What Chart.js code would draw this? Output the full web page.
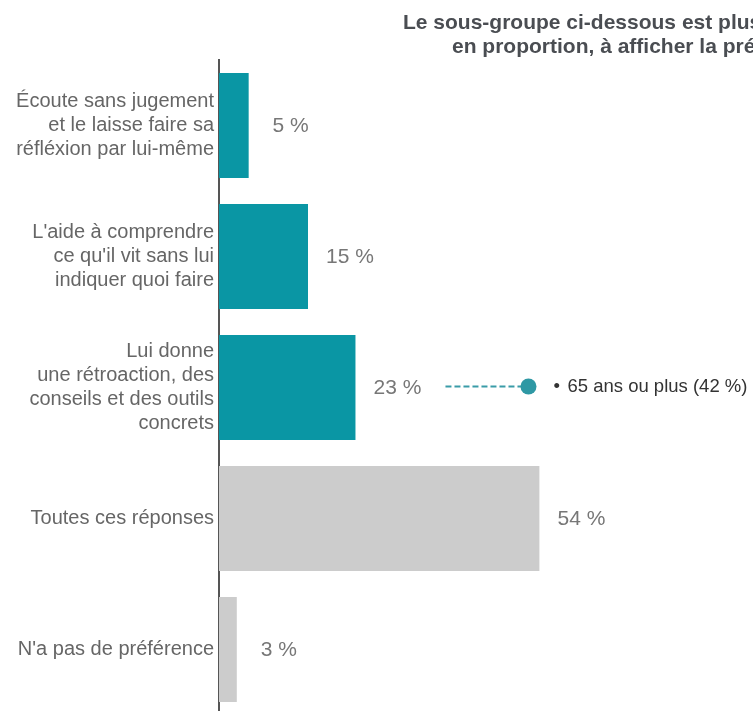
<!DOCTYPE html>
<html lang="fr">
<head>
<meta charset="utf-8">
<script src="https://cdn.jsdelivr.net/npm/chart.js@4"></script>
<style>
  html, body { margin: 0; padding: 0; background: #fff; overflow: hidden; }
  canvas { display: block; }
</style>
</head>
<body>
<canvas id="chart" width="753" height="715"></canvas>
<script>
  const categories = [
    ["Écoute sans jugement", "et le laisse faire sa", "réfléxion par lui-même"],
    ["L'aide à comprendre", "ce qu'il vit sans lui", "indiquer quoi faire"],
    ["Lui donne", "une rétroaction, des", "conseils et des outils", "concrets"],
    "Toutes ces réponses",
    "N'a pas de préférence"
  ];
  const values = [5, 15, 23, 54, 3];
  const barColors = ["#0a96a4", "#0a96a4", "#0a96a4", "#cccccc", "#cccccc"];
  const titleLines = ["Le sous-groupe ci-dessous est plus", "en proportion, à afficher la préférence"];
  const noteIndex = 2;
  const noteText = "65 ans ou plus (42 %)";

  const FONT = "'Liberation Sans', Arial, sans-serif";

  const extras = {
    id: "extras",
    afterDatasetsDraw(chart) {
      const ctx = chart.ctx;
      const bars = chart.getDatasetMeta(0).data;
      ctx.save();

      // valeurs
      ctx.font = "21px " + FONT;
      ctx.fillStyle = "#777";
      ctx.textBaseline = "middle";
      ctx.textAlign = "center";
      bars.forEach((bar, i) => {
        ctx.fillText(values[i] + " %", bar.x + 42, bar.y + 1);
      });

      // titre
      ctx.textAlign = "left";
      ctx.font = "bold 21px " + FONT;
      ctx.fillStyle = "#4a4d52";
      ctx.textBaseline = "alphabetic";
      ctx.fillText(titleLines[0], 403, 29);
      ctx.fillText(titleLines[1], 452, 53);

      // note
      const b = bars[noteIndex];
      const x0 = b.x + 90;
      const y = b.y - 1;
      ctx.strokeStyle = "#3a9ca8";
      ctx.lineWidth = 2;
      ctx.setLineDash([6, 3]);
      ctx.beginPath();
      ctx.moveTo(x0, y);
      ctx.lineTo(x0 + 80, y);
      ctx.stroke();
      ctx.setLineDash([]);
      ctx.fillStyle = "#2e98a4";
      ctx.beginPath();
      ctx.arc(x0 + 83, y, 8, 0, Math.PI * 2);
      ctx.fill();

      ctx.fillStyle = "#333";
      ctx.font = "18.5px " + FONT;
      ctx.textBaseline = "middle";
      ctx.fillText("•", x0 + 108, y);
      ctx.fillText(noteText, x0 + 122, y);
      ctx.restore();
    }
  };

  new Chart(document.getElementById("chart"), {
    type: "bar",
    data: {
      labels: categories,
      datasets: [{
        data: values,
        backgroundColor: barColors,
        borderWidth: 0,
        categoryPercentage: 0.8,
        barPercentage: 1
      }]
    },
    options: {
      indexAxis: "y",
      responsive: false,
      animation: false,
      layout: { padding: { top: 60, right: 0, bottom: 0, left: 0 } },
      plugins: {
        legend: { display: false },
        tooltip: { enabled: false }
      },
      scales: {
        x: {
          display: false,
          min: 0,
          max: 90
        },
        y: {
          afterFit(scale) {
            scale.width = 219;
            scale.paddingTop = 0;
            scale.paddingBottom = 0;
          },
          grid: { display: false, drawTicks: false },
          border: { display: true, color: "#555", width: 2 },
          ticks: {
            padding: 5,
            color: "#666",
            font: { family: FONT, size: 20, lineHeight: 1.2 }
          }
        }
      }
    },
    plugins: [extras]
  });
</script>
</body>
</html>
